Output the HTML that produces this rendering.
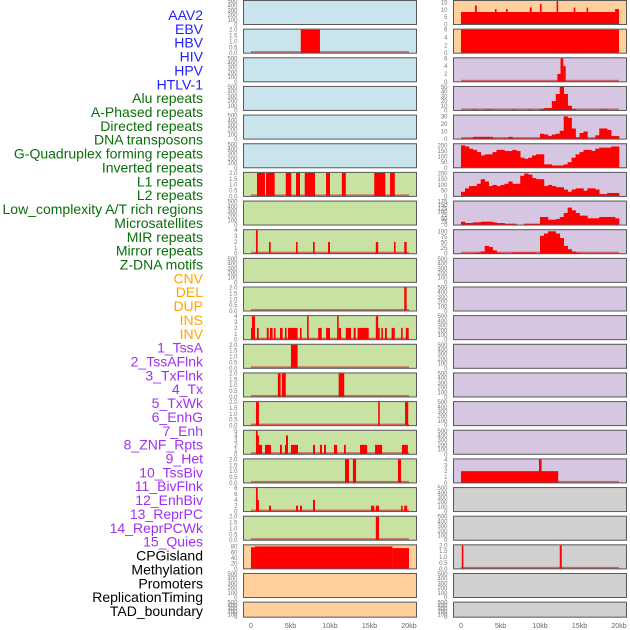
<!DOCTYPE html>
<html><head><meta charset="utf-8"><style>
body{margin:0;background:#fff;width:630px;height:630px;overflow:hidden}
svg{display:block}
</style></head><body>
<svg id="chart" width="630" height="630" xmlns="http://www.w3.org/2000/svg"></svg>
<script>
// ---------- data ----------
const trackLabels = ["AAV2","EBV","HBV","HIV","HPV","HTLV-1","Alu repeats","A-Phased repeats","Directed repeats","DNA transposons","G-Quadruplex forming repeats","Inverted repeats","L1 repeats","L2 repeats","Low_complexity A/T rich regions","Microsatellites","MIR repeats","Mirror repeats","Z-DNA motifs","CNV","DEL","DUP","INS","INV","1_TssA","2_TssAFlnk","3_TxFlnk","4_Tx","5_TxWk","6_EnhG","7_Enh","8_ZNF_Rpts","9_Het","10_TssBiv","11_BivFlnk","12_EnhBiv","13_ReprPC","14_ReprPCWk","15_Quies","CPGisland","Methylation","Promoters","ReplicationTiming","TAD_boundary"];
const labelGroups = [6,13,5,15,5];
const groupColors = ["#1f1fff","#0a6e0a","#ffa500","#a030f0","#000000"];
const xTickValues = [0,5,10,15,20];
const xTickLabels = ["0","5kb","10kb","15kb","20kb"];

const ticks500 = [0,100,200,300,400,500];
const ticks2 = [0,0.5,1,1.5,2];

// sparse segments: [startKb, endKb, value]
const segL1 = [[6.3,8.73,2]];
const segL6 = [[0.76,1.77,2],[1.9,3.0,2],[4.4,5.1,2],[5.7,6.2,2],[6.8,8.1,2],[9.5,10.0,2],[11.5,12.0,2],[15.6,17.0,2],[17.6,18.2,2]];
const segL8 = [[0.63,0.85,4],[2.28,2.49,2],[5.7,5.9,2],[7.85,8.06,2],[9.75,10.0,2],[15.8,16.1,2],[18.1,18.3,2],[19.4,19.7,2]];
const segL10 = [[19.4,19.7,2]];
const segL11 = [[0,0.5,2],[0.12,0.5,4],[0.76,0.97,2],[2.0,2.24,2],[2.4,2.74,2],[2.9,3.1,2],[3.67,4.0,2],[4.3,4.5,2],[4.68,5.9,2],[6.2,6.4,2],[7.1,7.3,4],[8.5,8.95,2],[9.5,10.0,2],[10.9,11.1,4],[11.1,11.4,2],[12.0,12.66,2],[13.0,13.25,2],[13.5,14.9,2],[15.8,16.1,4],[16.1,16.3,2],[16.5,16.7,2],[16.96,17.2,2],[17.8,18.2,2],[19.0,19.2,2],[19.6,19.96,2]];
const segL12 = [[5.06,5.9,2]];
const segL13 = [[3.4,3.75,2],[3.9,4.4,2],[11.1,11.8,2]];
const segL14 = [[0.63,1.0,2],[16.1,16.3,2],[19.5,19.9,2]];
const segL15 = [[0.85,1.4,2],[0.76,1.0,4],[0.63,0.85,5],[1.77,2.53,2],[3.67,3.92,2],[4.3,4.55,2],[4.43,4.68,4],[5.06,5.95,2],[7.85,8.1,2],[8.73,8.98,2],[9.24,9.49,2],[10.5,10.9,2],[11.77,12.0,2],[13.8,14.7,2],[15.7,16.6,2],[19.1,19.86,2]];
const segL16 = [[11.9,12.4,2],[12.9,13.3,2],[18.6,19.0,2]];
const segL17 = [[0.63,0.85,8],[0.76,1.0,4],[2.28,2.53,2],[5.7,5.95,2],[6.2,6.45,2],[7.85,8.1,4],[15.2,15.6,2],[15.8,16.2,2],[19.0,19.2,2],[19.4,19.77,2]];
const segL18 = [[15.8,16.2,2]];
const segL19 = [[0,0.5,78],[0.5,17.9,81],[17.9,20,75]];
const segR0 = [[0,19.5,8.5],[19.5,20,10.5],[1.77,2.0,13],[4.3,4.5,10.5],[5.7,5.9,10.5],[8.7,8.95,11.5],[10.0,10.2,14],[12.1,12.3,16],[14.27,14.47,11.5],[15.9,16.1,11.5]];
const segR1 = [[0,20,6]];
const segR2 = [[12.2,12.6,2],[12.6,12.95,6],[12.95,13.25,4]];
const segR16 = [[0,12.3,2],[9.87,10.2,4]];
const segR19 = [[0.1,0.3,2],[12.5,12.75,2]];

// dense 0.5kb bins (40 bins over 0-20kb)
const binsR3 = [0,0,0,2,0,0,2,2,0,0,0,0,0,2,0,0,0,2,0,0,3,5,5,20,35,50,35,10,3,0,0,0,0,0,0,2,2,0,0,0];
const binsR4 = [1,1,1,3,3,3,3,3,1,1,1,1,3,1,1,1,1,1,1,1,7,6,4,6,7,11,30,28,14,2,8,10,1,1,5,14,14,12,4,4];
const binsR5 = [200,190,170,160,140,110,120,120,140,160,160,150,150,160,150,90,80,90,110,120,120,30,30,20,20,20,30,50,90,120,140,160,160,150,170,180,180,180,190,190];
const binsR6 = [40,70,90,90,110,150,130,90,100,90,100,110,130,110,110,180,200,190,160,150,150,90,100,90,80,80,60,40,60,70,70,50,70,70,60,20,20,30,30,30];
const binsR7 = [25,15,15,20,20,25,25,25,20,15,15,10,10,10,3,3,10,10,10,10,60,60,40,40,45,60,90,130,110,90,70,70,50,50,50,60,60,60,60,50];
const binsR8 = [0,0,0,3,5,10,35,30,15,5,0,0,0,5,5,5,5,5,5,0,80,90,100,100,90,70,35,20,10,5,0,0,0,0,0,0,0,0,0,0];

const BG_BLUE="#c9e4ec", BG_GREEN="#c8e2a4", BG_PEACH="#ffd09c", BG_LAV="#d6c6e2", BG_GRAY="#d0d0d0";
// panel specs: [col,row,bg,ymax,ticks,segments,bins,baseline]
const panels = [];
function P(col,row,bg,ymax,tk,seg,bins,base){panels.push({col,row,bg,ymax,tk,seg,bins,base});}
// left column
P(0,0,BG_BLUE,500,ticks500,null,null,false);
P(0,1,BG_BLUE,2,ticks2,segL1,null,true);
for(let r=2;r<=5;r++)P(0,r,BG_BLUE,500,ticks500,null,null,false);
P(0,6,BG_GREEN,2,ticks2,segL6,null,true);
P(0,7,BG_GREEN,500,ticks500,null,null,false);
P(0,8,BG_GREEN,4,[0,1,2,3,4],segL8,null,true);
P(0,9,BG_GREEN,500,ticks500,null,null,false);
P(0,10,BG_GREEN,2,ticks2,segL10,null,true);
P(0,11,BG_GREEN,4,[0,1,2,3,4],segL11,null,true);
P(0,12,BG_GREEN,2,ticks2,segL12,null,true);
P(0,13,BG_GREEN,2,ticks2,segL13,null,true);
P(0,14,BG_GREEN,2,ticks2,segL14,null,true);
P(0,15,BG_GREEN,5,[0,1,2,3,4,5],segL15,null,true);
P(0,16,BG_GREEN,2,ticks2,segL16,null,true);
P(0,17,BG_GREEN,8,[0,2,4,6,8],segL17,null,true);
P(0,18,BG_GREEN,2,ticks2,segL18,null,true);
P(0,19,BG_PEACH,85,[0,20,40,60,80],segL19,null,false);
P(0,20,BG_PEACH,500,ticks500,null,null,false);
P(0,21,BG_PEACH,500,ticks500,null,null,false);
// right column
P(1,0,BG_PEACH,16,[0,5,10,15],segR0,null,false);
P(1,1,BG_PEACH,6,[0,2,4,6],segR1,null,false);
P(1,2,BG_LAV,6,[0,2,4,6],segR2,null,true);
P(1,3,BG_LAV,50,[0,10,20,30,40,50],null,binsR3,true);
P(1,4,BG_LAV,31,[0,10,20,30],null,binsR4,true);
P(1,5,BG_LAV,210,[0,50,100,150,200],null,binsR5,false);
P(1,6,BG_LAV,205,[0,50,100,150,200],null,binsR6,false);
P(1,7,BG_LAV,175,[0,25,50,75,100,125,150,175],null,binsR7,false);
P(1,8,BG_LAV,105,[0,25,50,75,100],null,binsR8,true);
for(let r=9;r<=15;r++)P(1,r,BG_LAV,500,ticks500,null,null,false);
P(1,16,BG_LAV,4,[0,1,2,3,4],segR16,null,true);
P(1,17,BG_GRAY,500,ticks500,null,null,false);
P(1,18,BG_GRAY,500,ticks500,null,null,false);
P(1,19,BG_GRAY,2,ticks2,segR19,null,true);
P(1,20,BG_GRAY,500,ticks500,null,null,false);
P(1,21,BG_GRAY,500,ticks500,null,null,false);

// ---------- drawing ----------
const NS="http://www.w3.org/2000/svg";
const svg=document.getElementById('chart');
function el(tag,attrs,parent){const e=document.createElementNS(NS,tag);for(const k in attrs)e.setAttribute(k,attrs[k]);(parent||svg).appendChild(e);return e;}
const colX=[243.5,453.5], colW=173, zeroX=[251,461], pxPerKb=7.9;
function xScale(kb,col){return zeroX[col]+kb*pxPerKb;}
function rowTop(r){return r*28.65;}
function rowH(r){return r===21?16:25;}
function yScale(v,p){const t=rowTop(p.row),h=rowH(p.row);const bot=t+h-0.5;return bot-(v/p.ymax)*(h-1.5);}

// labels
let idx=0;
labelGroups.forEach((n,g)=>{for(let i=0;i<n;i++){
  const t=el('text',{x:203,y:15+idx*13.86+5,'text-anchor':'end','font-family':'Liberation Sans, sans-serif','font-size':14,fill:groupColors[g]});
  t.textContent=trackLabels[idx];
  
  
  idx++;}});

panels.forEach(p=>{
  const g=el('g',{});
  
  
  const t=rowTop(p.row),h=rowH(p.row);
  const bg=el('rect',{x:colX[p.col],y:t,width:colW,height:h,fill:p.bg,stroke:'none'},g);
  
  
  // ticks
  p.tk.forEach(v=>{
    const tt=el('text',{x:p.col?447.5:237.5,y:yScale(v,p)+2,'text-anchor':'end','font-family':'Liberation Sans, sans-serif','font-size':6,fill:'#777'},g);
    tt.textContent=(p.ymax<=2)?v.toFixed(1):String(v);
    
    
  });
  if(p.base){
    const b=el('rect',{x:xScale(0,p.col),y:yScale(0,p)-2,width:20*pxPerKb,height:2,fill:'#d04040','fill-opacity':0.75},g);
    
    
  }
  if(p.seg){p.seg.forEach(s=>{
    const x0=xScale(s[0],p.col),x1=xScale(s[1],p.col),y=yScale(s[2],p);
    const r=el('rect',{x:x0,y:y,width:Math.max(1.2,x1-x0),height:yScale(0,p)-y,fill:'#ff0000'},g);
    
    
  });}
  if(p.bins){p.bins.forEach((v,i)=>{
    if(v<=0)return;
    const x0=xScale(i*0.5,p.col),x1=xScale(i*0.5+0.5,p.col),y=yScale(v,p);
    const r=el('rect',{x:x0,y:y,width:x1-x0+0.3,height:yScale(0,p)-y,fill:'#ff0000'},g);
    
    
  });}
  const fr=el('rect',{x:colX[p.col],y:t+0.5,width:colW,height:h-1,fill:'none',stroke:'#5a5a5a','stroke-width':1},g);
  
  
});

// x axes
[0,1].forEach(col=>{
  xTickValues.forEach((v,i)=>{
    const t=el('text',{x:xScale(v,col),y:628,'text-anchor':'middle','font-family':'Liberation Sans, sans-serif','font-size':7,fill:'#666'});
    t.textContent=xTickLabels[i];
    
    
  });
});
</script>
</body></html>
